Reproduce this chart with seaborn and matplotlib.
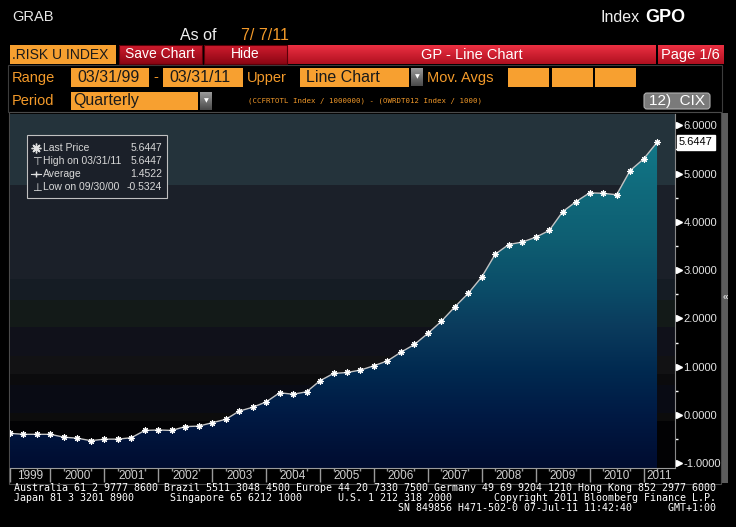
import numpy as np
import pandas as pd
import seaborn as sns
import matplotlib.pyplot as plt
from matplotlib.colors import LinearSegmentedColormap
from matplotlib.patches import Rectangle, FancyBboxPatch
from matplotlib.lines import Line2D
import matplotlib.transforms as mtransforms

# Quarterly values, 03/31/99 .. 03/31/11
quarter_end = pd.date_range("1999-03-31", "2011-03-31", freq="QE")
values = [
    -0.38, -0.40, -0.40, -0.40, -0.46, -0.48, -0.5324, -0.50, -0.50, -0.47,
    -0.32, -0.31, -0.32, -0.24, -0.23, -0.16, -0.09, 0.08, 0.16, 0.27,
    0.46, 0.43, 0.48, 0.71, 0.86, 0.88, 0.93, 1.02, 1.12, 1.30,
    1.46, 1.69, 1.94, 2.24, 2.52, 2.86, 3.33, 3.53, 3.58, 3.68,
    3.82, 4.21, 4.42, 4.60, 4.59, 4.56, 5.06, 5.30, 5.6447,
]
years = list(range(1999, 2012))
y_ticks = [-1, 0, 1, 2, 3, 4, 5, 6]
legend_labels = ["Last Price", "High on 03/31/11", "Average", "Low on 09/30/00"]
legend_values = ["5.6447", "5.6447", "1.4522", "-0.5324"]

footer = [
    "Australia 61 2 9777 8600 Brazil 5511 3048 4500 Europe 44 20 7330 7500 Germany 49 69 9204 1210 Hong Kong 852 2977 6000",
    "Japan 81 3 3201 8900      Singapore 65 6212 1000      U.S. 1 212 318 2000       Copyright 2011 Bloomberg Finance L.P.",
    "                                                                SN 849856 H471-502-0 07-Jul-11 11:42:40      GMT+1:00",
]

df = pd.DataFrame({"date": quarter_end, "value": values})
df["q"] = np.arange(len(df))

W, H = 736, 527
SANS = "Liberation Sans"
ORANGE = "#f7a030"
ORANGE_TXT = "#f39a2a"

fig = plt.figure(figsize=(W / 100, H / 100), dpi=100, facecolor="black")

# Pixel-space overlay for the terminal chrome
ui = fig.add_axes([0, 0, 1, 1], zorder=0)
ui.set_xlim(0, W)
ui.set_ylim(H, 0)
ui.axis("off")
ui.set_autoscale_on(False)


def grad_rect(a, x0, y0, x1, y1, c_top, c_bot, ec=None, z=1):
    cmap = LinearSegmentedColormap.from_list("g", [c_top, c_bot])
    a.imshow(np.linspace(0, 1, 32)[:, None], cmap=cmap, aspect="auto",
             extent=(x0, x1, y1, y0), origin="upper", zorder=z,
             interpolation="bilinear")
    if ec:
        a.add_patch(Rectangle((x0, y0), x1 - x0, y1 - y0, fill=False, ec=ec,
                              lw=0.8, zorder=z + 0.1))


def box(a, x0, y0, x1, y1, fc, ec="none", lw=0.8, z=1):
    a.add_patch(Rectangle((x0, y0), x1 - x0, y1 - y0, fc=fc, ec=ec, lw=lw, zorder=z))


# Top line
ui.text(12, 17, "GRAB", color="#e8e8e8", fontsize=10.5, family=SANS, va="center")
ui.text(601, 17, "Index", color="#f0f0f0", fontsize=11.5, family=SANS, va="center")
ui.text(645, 17, "GPO", color="white", fontsize=13, family=SANS,
        weight="bold", va="center")
ui.text(180, 36, "As of", color="#f0f0f0", fontsize=11.5, family=SANS, va="center")
ui.text(241, 36, "7/ 7/11", color=ORANGE_TXT, fontsize=11.5, family=SANS, va="center")

# Red bar
box(ui, 10, 45, 116, 64, ORANGE)
ui.text(12, 55, ".RISK U INDEX", color="#1a1a1a", fontsize=10, family=SANS, va="center")
grad_rect(ui, 119, 45, 202, 64, "#d01c2e", "#8c0614", ec="#5a0008")
ui.text(160, 54.5, "Save Chart", color="white", fontsize=10, family=SANS,
        ha="center", va="center", zorder=3)
grad_rect(ui, 204, 45, 287, 64, "#d01c2e", "#8c0614", ec="#5a0008")
ui.text(245, 54.5, "Hide", color="white", fontsize=10, family=SANS,
        ha="center", va="center", zorder=3)
grad_rect(ui, 288, 45, 656, 64, "#ec3042", "#b01020")
ui.text(472, 55, "GP - Line Chart", color="white", fontsize=10.5, family=SANS,
        ha="center", va="center", zorder=3)
grad_rect(ui, 658, 45, 724, 64, "#ec3042", "#b01020")
ui.text(661, 55, "Page 1/6", color="white", fontsize=10.5, family=SANS,
        va="center", zorder=3)

# Settings panel
box(ui, 8, 65, 722, 112, "black", ec="#3c3c3c")
ui.text(12, 78, "Range", color=ORANGE_TXT, fontsize=10.5, family=SANS, va="center")
ui.text(12, 101, "Period", color=ORANGE_TXT, fontsize=10.5, family=SANS, va="center")
for x0, x1, txt in [(71, 149, "03/31/99"), (163, 243, "03/31/11"), (300, 409, "Line Chart")]:
    box(ui, x0, 68, x1, 87, ORANGE)
    ui.text(x0 + 6, 78, txt, color="#1a1a1a", fontsize=11.5, family=SANS,
            va="center", zorder=3)
ui.text(156, 77, "-", color=ORANGE_TXT, fontsize=10.5, family=SANS,
        ha="center", va="center")
ui.text(247, 78, "Upper", color=ORANGE_TXT, fontsize=10.5, family=SANS, va="center")
ui.text(427, 78, "Mov. Avgs", color=ORANGE_TXT, fontsize=10.5, family=SANS, va="center")
for x0, x1 in [(508, 549), (552, 593), (595, 636)]:
    box(ui, x0, 68, x1, 87, ORANGE)
box(ui, 71, 92, 198, 110, ORANGE)
ui.text(73, 101, "Quarterly", color="#1a1a1a", fontsize=11.5, family=SANS,
        va="center", zorder=3)
for x0, y0 in [(411, 68), (200, 92)]:
    grad_rect(ui, x0, y0, x0 + 12, y0 + 18, "#9a9a9a", "#4a4a4a")
    ui.text(x0 + 6, y0 + 9, "\u25bc", color="white", fontsize=4.5,
            ha="center", va="center", zorder=3)
ui.text(248, 101, "(CCFRTOTL Index / 1000000) - (OWRDT012 Index / 1000)",
        color=ORANGE_TXT, fontsize=5.3, family="DejaVu Sans Mono", va="center")
ui.add_patch(FancyBboxPatch((644, 93), 66, 16, boxstyle="round,pad=0,rounding_size=3",
                            fc="#7a7a7a", ec="#b0b0b0", lw=0.8, zorder=1))
ui.text(677, 101.5, "12)  CIX", color="white", fontsize=11, family=SANS,
        ha="center", va="center", zorder=3)

# Chart panel frame + scrollbar
box(ui, 9, 112, 721, 484, "black", ec="#4a4a4a")
box(ui, 722, 113, 728, 483, "#5c5c5c")
ui.text(725, 297, "\u00ab", color="white", fontsize=7, family=SANS,
        ha="center", va="center", zorder=3)

# Footer
for i, line in enumerate(footer):
    ui.text(14, 488 + 10 * i, line, color="white", fontsize=7.2,
            family="DejaVu Sans Mono", va="center")

# Main chart axes (pixel box 10..675 x 114..468)
PX_L, PX_R, PX_T, PX_B = 10, 675, 114, 468
ax = fig.add_axes([PX_L / W, 1 - PX_B / H, (PX_R - PX_L) / W, (PX_B - PX_T) / H], zorder=2)
ax.set_facecolor("none")
px_per_q = 13.48
px_per_unit = 48.3
zero_px = 415
x_max = (PX_R - PX_L) / px_per_q
y_lo = (zero_px - PX_B) / px_per_unit
y_hi = (zero_px - PX_T) / px_per_unit

# Banded background (rows in pixels, top to bottom)
bands = [
    (114, 185, "#24333b"), (185, 279, "#1b2029"), (279, 300, "#151c24"),
    (300, 327, "#131a18"), (327, 356, "#10111a"), (356, 374, "#121214"),
    (374, 385, "#0b0b0d"), (385, 413, "#090b14"), (413, 421, "#0c0c0c"),
    (421, 468, "#020204"),
]
for band_top, band_bot, c in bands:
    ax.add_patch(Rectangle((0, 1 - (band_bot - PX_T) / (PX_B - PX_T)), 1,
                           (band_bot - band_top) / (PX_B - PX_T),
                           transform=ax.transAxes, fc=c, ec="none", zorder=0))

# Gradient area under the line
fill_stops = [(468, "#000c30"), (415, "#001a44"), (375, "#00284f"), (330, "#0a3a5c"),
              (290, "#0b4c68"), (240, "#0e5e72"), (190, "#106a7c"), (114, "#13808e")]
pos = [(PX_B - p) / (PX_B - PX_T) for p, _ in fill_stops]
fill_cmap = LinearSegmentedColormap.from_list("fill", list(zip(pos, [c for _, c in fill_stops])))
poly = ax.fill_between(df["q"], df["value"], y_lo, fc="none", ec="none")
im = ax.imshow(np.linspace(0, 1, 256)[:, None], cmap=fill_cmap, aspect="auto",
               extent=(0, df["q"].iloc[-1], y_lo, y_hi), origin="lower", zorder=1)
im.set_clip_path(poly.get_paths()[0], transform=ax.transData)

sns.lineplot(data=df, x="q", y="value", ax=ax, color="#c4c4c4", linewidth=1,
             marker=(8, 2, 0), markersize=4.5, markeredgecolor="white",
             markeredgewidth=0.8, zorder=4)
ax.set_xlim(0, x_max)
ax.set_ylim(y_lo, y_hi)

# Axes styling
for side in ["top", "left"]:
    ax.spines[side].set_visible(False)
ax.spines["bottom"].set_color("#9a9a9a")
ax.spines["right"].set_color("#8a8a8a")
ax.set_xlabel("")
ax.set_ylabel("")

# X axis: year separators, quarter ticks, centred year labels
year_edges = [0] + [3 + 4 * k for k in range(12)]
ax.set_xticks(year_edges)
ax.set_xticks(df["q"], minor=True)
ax.tick_params(axis="x", which="major", length=10, width=1, color="#9a9a9a",
               labelbottom=False)
ax.tick_params(axis="x", which="minor", length=1.8, width=1, color="#9a9a9a")
label_edges = year_edges + [x_max]
xlab_tr = mtransforms.blended_transform_factory(ax.transData, ax.transAxes)
for yr, a, b in zip(years, label_edges[:-1], label_edges[1:]):
    ax.text((a + b) / 2, -(476 - PX_B) / (PX_B - PX_T), str(yr), transform=xlab_tr,
            ha="center", va="center", color="#d0d0d0", fontsize=8.5, family=SANS)

# Y axis on the right
ax.yaxis.tick_right()
ax.set_yticks(y_ticks)
ax.set_yticklabels([f"{v:.4f}" for v in y_ticks])
ax.set_yticks(np.arange(-0.5, 6.0, 1.0), minor=True)
ax.tick_params(axis="y", which="major", length=3, width=1, color="white", pad=3,
               labelcolor="#e4e4e4", labelsize=8)
ax.tick_params(axis="y", which="minor", length=2, width=1, color="white")
for lab in ax.get_yticklabels():
    lab.set_family(SANS)
ytr = mtransforms.blended_transform_factory(ax.transAxes, ax.transData)
ax.plot([1 + 4 / (PX_R - PX_L)] * len(y_ticks), y_ticks, ls="none", marker=">",
        ms=4, color="white", transform=ytr, clip_on=False, zorder=5)
ax.text(1 + 4 / (PX_R - PX_L), values[-1], f"{values[-1]:.4f}", transform=ytr,
        ha="left", va="center", color="black", fontsize=8, family=SANS,
        bbox=dict(boxstyle="square,pad=0.2", fc="white", ec="white"), zorder=6)

# Legend box (pixel overlay on top)
top = fig.add_axes([0, 0, 1, 1], zorder=5)
top.set_xlim(0, W)
top.set_ylim(H, 0)
top.axis("off")
top.add_patch(Rectangle((27, 135), 140, 63, fc="#1b2029", ec="#c0c0c0", lw=0.8))
rows_y = [148, 161, 174, 187]
for y, lab, val in zip(rows_y, legend_labels, legend_values):
    top.text(43, y, lab, color="#d8d8d8", fontsize=7.5, family=SANS, va="center")
    top.text(162, y, val, color="#d8d8d8", fontsize=7.5, family=SANS, va="center", ha="right")
top.add_line(Line2D([36], [148], marker=(8, 2, 0), ms=7, mec="#e0e0e0", mew=1, ls="none"))
top.text(36, 161, r"$\top$", color="#e0e0e0", fontsize=8, ha="center", va="center")
top.add_line(Line2D([31, 41], [174, 174], color="#e0e0e0", lw=0.8))
top.add_line(Line2D([36], [174], marker="+", ms=4, mec="#e0e0e0", mew=1, ls="none"))
top.text(36, 187, r"$\bot$", color="#e0e0e0", fontsize=8, ha="center", va="center")

fig.savefig("out.png", dpi=100, facecolor="black")
